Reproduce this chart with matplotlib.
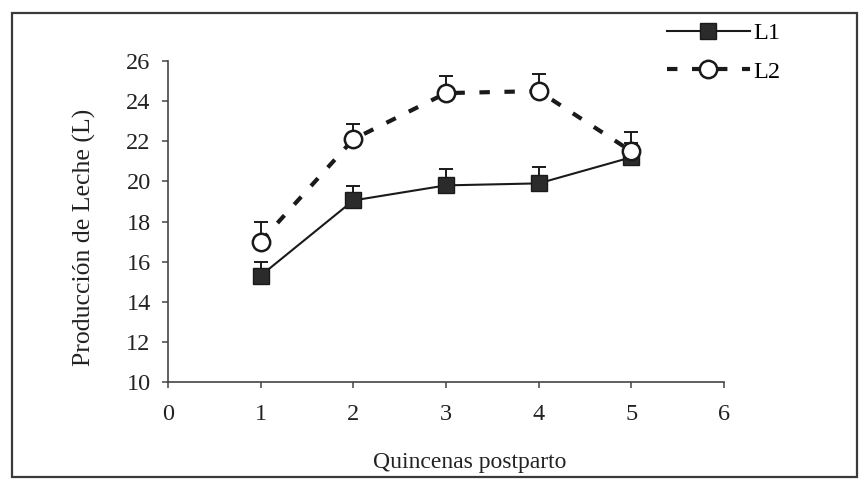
import matplotlib
matplotlib.use('Agg')
import matplotlib.pyplot as plt
from matplotlib.lines import Line2D
from matplotlib.patches import Rectangle

# datos
quincenas = [1, 2, 3, 4, 5]
l1_media = [15.3, 19.05, 19.8, 19.9, 21.2]
l1_error = [0.7, 0.7, 0.8, 0.8, 0.7]
l2_media = [17.0, 22.1, 24.4, 24.5, 21.5]
l2_error = [1.0, 0.75, 0.85, 0.85, 0.95]
x_ticks = [0, 1, 2, 3, 4, 5, 6]
y_ticks = [10, 12, 14, 16, 18, 20, 22, 24, 26]

plt.rcParams['font.family'] = ['Liberation Serif', 'DejaVu Serif']
dark = '#1a1a1a'

fig = plt.figure(figsize=(8.59, 4.79), dpi=100)
ax = fig.add_axes([168 / 859, 1 - 382 / 479, 556 / 859, 321 / 479])

# barras de error (solo hacia arriba)
ax.errorbar(quincenas, l1_media, yerr=[[0] * 5, l1_error], fmt='none',
            ecolor=dark, elinewidth=1.4, capsize=4.8, capthick=1.4, zorder=2)
ax.plot(quincenas, l1_media, color=dark, lw=1.5, marker='s', ms=12,
        mfc='#2b2b2b', mec=dark, mew=1, zorder=3)
ax.errorbar(quincenas, l2_media, yerr=[[0] * 5, l2_error], fmt='none',
            ecolor=dark, elinewidth=1.4, capsize=4.8, capthick=1.4, zorder=4)
ax.plot(quincenas, l2_media, color=dark, lw=3, ls=(0, (2.5, 3.5)),
        marker='o', ms=12.5, mfc='white', mec=dark, mew=1.8, zorder=5)

ax.set_xlim(0, 6)
ax.set_ylim(10, 26)
ax.set_xticks(x_ticks)
ax.set_yticks(y_ticks)
for s in ['top', 'right']:
    ax.spines[s].set_visible(False)
for s in ['left', 'bottom']:
    ax.spines[s].set_color('#444444')
    ax.spines[s].set_linewidth(1.2)
ax.tick_params(length=4.5, width=1.1, color='#444444', labelsize=17.5,
               labelcolor='#222222')
ax.tick_params(axis='x', pad=11)
ax.tick_params(axis='y', pad=8)

ax.set_xlabel('Quincenas postparto', fontsize=17, color='#222222')
ax.set_ylabel('Producción de Leche (L)', fontsize=18.5, color='#222222')
ax.xaxis.set_label_coords(0.543, -0.218)
ax.yaxis.set_label_coords(-0.13, 0.45)

handles = [
    Line2D([], [], color=dark, lw=1.5, marker='s', ms=12,
           mfc='#2b2b2b', mec=dark, mew=1),
    Line2D([], [], color=dark, lw=3, ls=(0, (2.5, 3.5)), marker='o',
           ms=12.5, mfc='white', mec=dark, mew=1.8),
]
fig.legend(handles, ['L1', 'L2'], loc='upper left',
           bbox_to_anchor=(667 / 859, 1 - 22 / 479), frameon=False,
           fontsize=17.5, handlelength=3.4, handletextpad=0.15,
           borderpad=0, borderaxespad=0, labelspacing=0.68)

# marco exterior
fig.patches.append(Rectangle((12 / 859, 2 / 479), 845 / 859, 464 / 479,
                             transform=fig.transFigure, fill=False,
                             edgecolor='#3a3a3a', lw=1.6))

fig.savefig('out.png', dpi=100)
